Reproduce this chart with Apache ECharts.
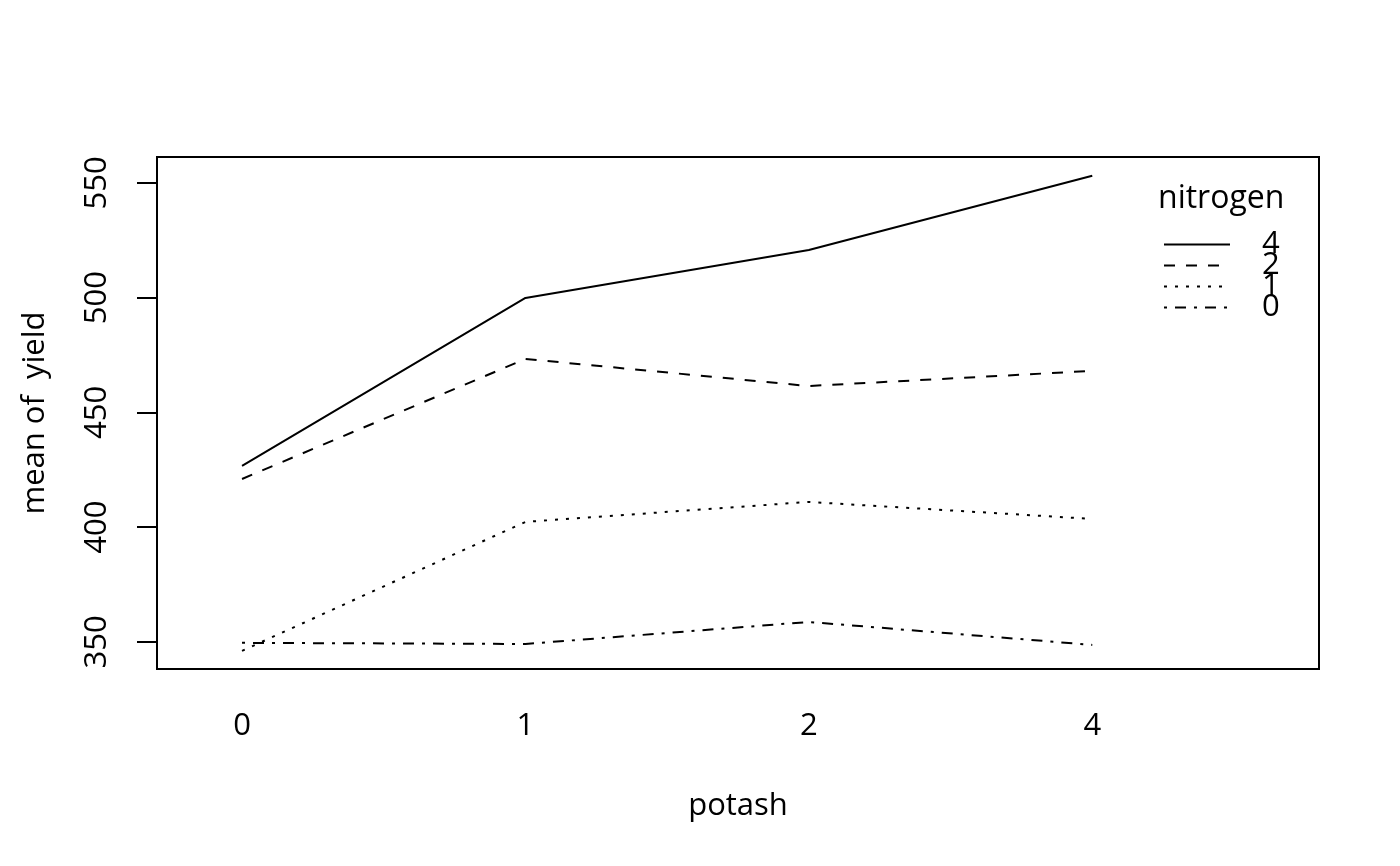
<!DOCTYPE html>
<html>
<head>
<meta charset="utf-8">
<script src="https://cdn.jsdelivr.net/npm/echarts@6/dist/echarts.min.js"></script>
<style>
html,body{margin:0;padding:0;background:#fff;}
#chart{width:1400px;height:866px;}
</style>
</head>
<body>
<div id="chart"></div>
<script>
var potashLevels = ['0', '1', '2', '4'];
var nitrogenLevels = ['4', '2', '1', '0'];
var yieldN4 = [426.7, 499.9, 520.8, 553.1];
var yieldN2 = [421.0, 473.3, 461.5, 468.1];
var yieldN1 = [346.1, 402.3, 411.0, 403.6];
var yieldN0 = [349.6, 349.1, 358.7, 348.7];
var yTicks = [350, 400, 450, 500, 550];

var seriesValues = [yieldN4, yieldN2, yieldN1, yieldN0];
var dashTypes = ['solid', [11, 11], [3, 8], [3, 8, 11, 8]];
var FONT = '"Open Sans", "Noto Sans", sans-serif';

var chart = echarts.init(document.getElementById('chart'), null, {renderer: 'canvas'});

var series = nitrogenLevels.map(function (lvl, k) {
  return {
    name: lvl,
    type: 'line',
    symbol: 'none',
    silent: true,
    animation: false,
    lineStyle: {color: '#000', width: 2, type: dashTypes[k]},
    itemStyle: {color: '#000'},
    data: seriesValues[k].map(function (v, i) { return [i, v]; })
  };
});

chart.setOption({
  backgroundColor: '#fff',
  animation: false,
  title: {
    text: 'nitrogen',
    left: 1153,
    top: 178,
    textStyle: {fontFamily: FONT, fontSize: 32, fontWeight: 'normal', color: '#000'}
  },
  legend: {
    orient: 'vertical',
    left: 1158,
    top: 224,
    itemWidth: 66,
    itemHeight: 20,
    itemGap: -10,
    itemStyle: {opacity: 0},
    textStyle: {fontFamily: FONT, fontSize: 31, color: '#000', padding: [0, 0, 0, 27]},
    data: nitrogenLevels,
    selectedMode: false
  },
  grid: {
    left: 157, right: 81, top: 157, bottom: 197,
    show: true, borderColor: '#000', borderWidth: 2, backgroundColor: 'transparent'
  },
  xAxis: {
    type: 'value',
    min: -0.3,
    max: 3.8,
    name: 'potash',
    nameLocation: 'middle',
    nameGap: 122,
    nameTextStyle: {fontFamily: FONT, fontSize: 31, color: '#000'},
    axisLine: {show: false, onZero: false},
    axisTick: {show: false},
    splitLine: {show: false},
    axisLabel: {
      customValues: [0, 1, 2, 3],
      formatter: function (v) { return potashLevels[Math.round(v)]; },
      fontFamily: FONT, fontSize: 31, color: '#000', margin: 42
    }
  },
  yAxis: {
    type: 'value',
    min: 338.2,
    max: 561.3,
    name: 'mean of  yield',
    nameLocation: 'middle',
    nameRotate: 90,
    nameGap: 106,
    nameTextStyle: {fontFamily: FONT, fontSize: 31, color: '#000'},
    axisLine: {show: false, onZero: false},
    splitLine: {show: false},
    axisTick: {show: true, customValues: yTicks, length: 20, lineStyle: {color: '#000', width: 2}},
    axisLabel: {
      customValues: yTicks,
      rotate: 90,
      fontFamily: FONT, fontSize: 31, color: '#000', margin: 44
    }
  },
  series: series
});
</script>
</body>
</html>
